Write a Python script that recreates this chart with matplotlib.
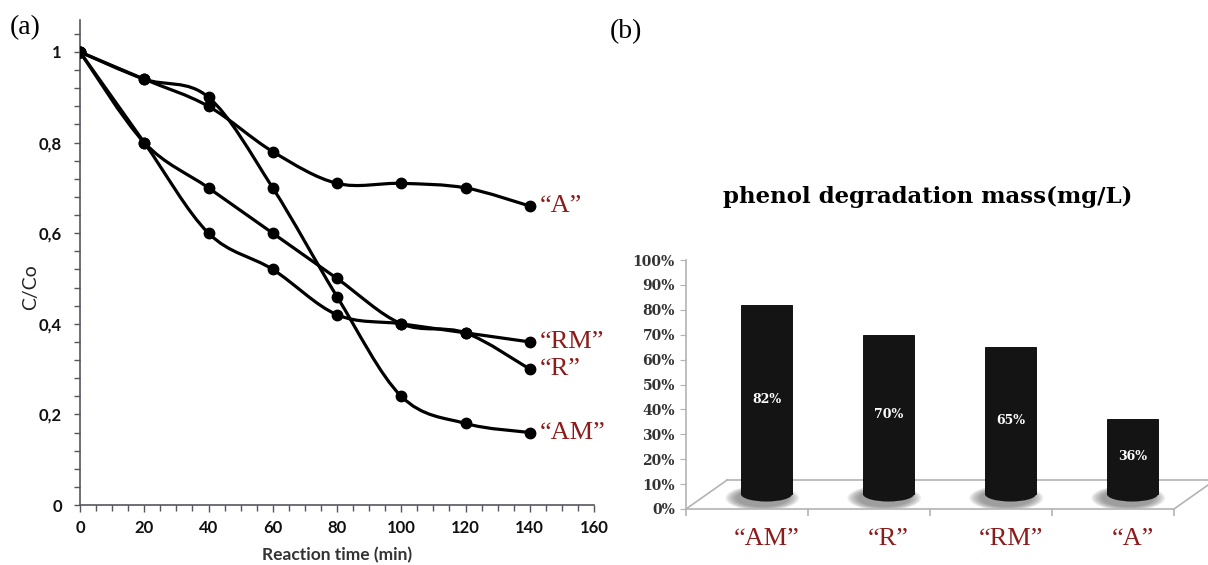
import numpy as np
import matplotlib
matplotlib.use("Agg")
import matplotlib.pyplot as plt
from matplotlib.path import Path
from matplotlib.patches import PathPatch, Ellipse
from matplotlib.ticker import MultipleLocator, FixedLocator, FixedFormatter

# ---------------- data ----------------
time_min = [0, 20, 40, 60, 80, 100, 120, 140]
series_A = [1.0, 0.94, 0.88, 0.78, 0.71, 0.71, 0.70, 0.66]
series_AM = [1.0, 0.94, 0.90, 0.70, 0.46, 0.24, 0.18, 0.16]
series_RM = [1.0, 0.80, 0.60, 0.52, 0.42, 0.40, 0.38, 0.36]
series_R = [1.0, 0.80, 0.70, 0.60, 0.50, 0.40, 0.38, 0.30]
series_names = ["\u201cA\u201d", "\u201cAM\u201d", "\u201cRM\u201d", "\u201cR\u201d"]

y_ticks = [0, 0.2, 0.4, 0.6, 0.8, 1.0]
y_ticklabels = ["0", "0,2", "0,4", "0,6", "0,8", "1"]
x_ticks = [0, 20, 40, 60, 80, 100, 120, 140, 160]

bar_categories = ["\u201cAM\u201d", "\u201cR\u201d", "\u201cRM\u201d", "\u201cA\u201d"]
bar_values = [82, 70, 65, 36]
bar_ticks = [0, 10, 20, 30, 40, 50, 60, 70, 80, 90, 100]

# ---------------- style ----------------
RED = "#8e1b1b"
AXC = "#55555f"
GRAY = "#b3b3b3"
SANS = ["Lato", "DejaVu Sans"]
SERIF = ["Liberation Serif", "DejaVu Serif"]

fig = plt.figure(figsize=(12.08, 5.65), dpi=100)

# ================= panel (a) =================
ax = fig.add_axes([80 / 1208, 1 - 505 / 565, 514 / 1208, 485 / 565])
ax.set_xlim(0, 160)
ax.set_ylim(0, 1.0706)


def smooth_path(xs, ys):
    pts = np.column_stack([xs, ys]).astype(float)
    n = len(pts)
    verts = [pts[0]]
    codes = [Path.MOVETO]
    for i in range(n - 1):
        p0 = pts[i - 1] if i > 0 else pts[i]
        p1 = pts[i]
        p2 = pts[i + 1]
        p3 = pts[i + 2] if i + 2 < n else pts[i + 1]
        c1 = p1 + (p2 - p0) / 6.0
        c2 = p2 - (p3 - p1) / 6.0
        verts += [c1, c2, p2]
        codes += [Path.CURVE4] * 3
    return Path(verts, codes)


for ys, name in zip([series_A, series_AM, series_RM, series_R], series_names):
    patch = PathPatch(smooth_path(time_min, ys), facecolor="none",
                      edgecolor="black", lw=2.3, capstyle="round",
                      joinstyle="round", zorder=3)
    ax.add_patch(patch)
    ax.plot(time_min, ys, ls="none", marker="o", ms=7.5, color="black", zorder=4)
    ax.annotate(name, xy=(time_min[-1], ys[-1]), xytext=(7, 0),
                textcoords="offset points", va="center", ha="left",
                color=RED, fontsize=19, family=SERIF, annotation_clip=False)

for s in ["top", "right"]:
    ax.spines[s].set_visible(False)
for s in ["left", "bottom"]:
    ax.spines[s].set_color(AXC)
    ax.spines[s].set_linewidth(1.2)

ax.yaxis.set_major_locator(FixedLocator(y_ticks))
ax.yaxis.set_major_formatter(FixedFormatter(y_ticklabels))
ax.yaxis.set_minor_locator(MultipleLocator(0.04))
ax.xaxis.set_major_locator(FixedLocator(x_ticks))
ax.xaxis.set_minor_locator(MultipleLocator(5))
ax.tick_params(axis="y", which="both", direction="out", length=4, width=1,
               color=AXC, pad=9)
ax.tick_params(axis="x", which="major", direction="out", length=5, width=1,
               color=AXC, pad=6)
ax.tick_params(axis="x", which="minor", direction="out", length=4, width=1,
               color=AXC)
for lab in ax.get_xticklabels() + ax.get_yticklabels():
    lab.set_fontfamily(SANS)
    lab.set_fontweight("bold")
    lab.set_fontsize(12)
    lab.set_color("#111111")

ax.set_xlabel("Reaction time (min)", fontsize=12.5, fontweight="bold",
              family=SANS, color="#333333", labelpad=8)
ax.set_ylabel("C/Co", fontsize=14, family=SANS, color="#222222")
ax.yaxis.set_label_coords(-0.08, 0.45)

fig.text(10 / 1208, 1 - 28 / 565, "(a)", fontsize=20, family=SERIF,
         va="center", ha="left")
fig.text(610 / 1208, 1 - 32 / 565, "(b)", fontsize=20, family=SERIF,
         va="center", ha="left")

# ================= panel (b) =================
bx = fig.add_axes([686 / 1208, 1 - 509 / 565, 488 / 1208, 249 / 565])
bx.set_xlim(-0.5, 3.5)
bx.set_ylim(0, 100)

depth_dx = 0.336      # 3-D floor depth (x units)
depth_dy = 11.6       # 3-D floor depth (y units)
bar_shift = 0.16      # bars sit half way into the floor
bar_w = 0.42
floor_level = 6.0     # bar base inside the floor

xpos = np.arange(len(bar_values)) + bar_shift

# floor outline
kw = dict(color=GRAY, lw=1.2, clip_on=False, zorder=1)
bx.plot([-0.5, -0.5 + depth_dx], [0, depth_dy], **kw)
bx.plot([-0.5 + depth_dx, 3.5 + depth_dx + 0.2], [depth_dy, depth_dy], **kw)
bx.plot([3.5, 3.5 + depth_dx], [0, depth_dy], **kw)

# soft shadows
n_layers = 14
for xc in xpos:
    for j in range(n_layers):
        k = 1.45 - 0.035 * j
        bx.add_patch(Ellipse((xc - 0.035, floor_level - 1.6), bar_w * k,
                             7.0 * k, facecolor="#6e6e6e", edgecolor="none",
                             alpha=0.07, zorder=2))

bars = bx.bar(xpos, [v - floor_level for v in bar_values], width=bar_w,
              bottom=floor_level, color="#141414", edgecolor="#000000",
              lw=0.6, zorder=3)
for xc in xpos:
    bx.add_patch(Ellipse((xc, floor_level), bar_w, 6.0, facecolor="#141414",
                         edgecolor="none", zorder=3))

for xc, v in zip(xpos, bar_values):
    bx.text(xc, (v + floor_level) / 2, f"{v}%", ha="center", va="center",
            color="white", fontsize=9, family=["DejaVu Serif"],
            fontweight="bold", zorder=5)

for s in ["top", "right"]:
    bx.spines[s].set_visible(False)
for s in ["left", "bottom"]:
    bx.spines[s].set_color(GRAY)
    bx.spines[s].set_linewidth(1.2)

bx.yaxis.set_major_locator(FixedLocator(bar_ticks))
bx.yaxis.set_major_formatter(FixedFormatter([f"{t}%" for t in bar_ticks]))
bx.tick_params(axis="y", direction="out", length=4, color=GRAY, pad=4,
               labelsize=10)
for lab in bx.get_yticklabels():
    lab.set_fontfamily(["DejaVu Serif"])
    lab.set_fontweight("bold")
    lab.set_color("#333333")

bx.xaxis.set_major_locator(FixedLocator(list(xpos)))
bx.xaxis.set_major_formatter(FixedFormatter(bar_categories))
bx.xaxis.set_minor_locator(FixedLocator([-0.5, 0.5, 1.5, 2.5, 3.5]))
bx.tick_params(axis="x", which="major", length=0, pad=14, labelsize=19,
               labelcolor=RED)
bx.tick_params(axis="x", which="minor", direction="out", length=5,
               color=GRAY, width=1.2)
for lab in bx.get_xticklabels():
    lab.set_fontfamily(SERIF)

fig.text(928 / 1208, 1 - 197 / 565, "phenol degradation mass(mg/L)",
         fontsize=16.5, fontweight="bold", family=["DejaVu Serif"],
         ha="center", va="center")

fig.savefig("out.png", dpi=100)
